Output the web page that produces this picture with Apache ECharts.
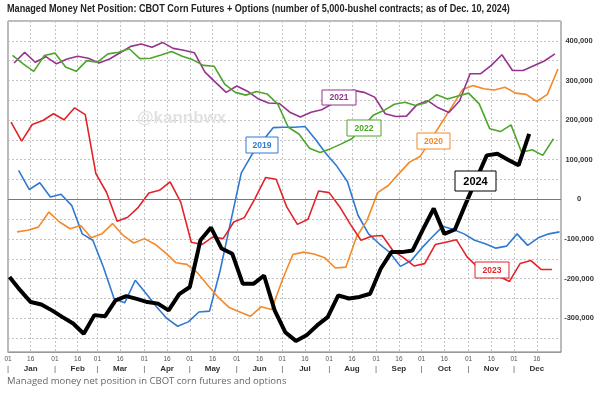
<!DOCTYPE html>
<html>
<head>
<meta charset="utf-8">
<script src="https://cdn.jsdelivr.net/npm/echarts@6/dist/echarts.min.js"></script>
<style>
html, body { margin: 0; padding: 0; background: #fff; }
#chart { width: 609px; height: 397px; }
</style>
</head>
<body>
<div id="chart"></div>
<script>
// calendar (day of year, 0 = Jan 1)
const monthStarts = [0, 31, 59, 90, 120, 151, 181, 212, 243, 273, 304, 334]
const monthNames = ['Jan', 'Feb', 'Mar', 'Apr', 'May', 'Jun', 'Jul', 'Aug', 'Sep', 'Oct', 'Nov', 'Dec']

// y axis, thousands of contracts
const yGridValues = [-350, -300, -250, -200, -150, -100, -50, 0, 50, 100, 150, 200, 250, 300, 350, 400, 450]
const yLabelValues = [-300, -200, -100, 0, 100, 200, 300, 400]

// first weekly report of each year (day of year)
const start2019 = 7
const start2020 = 6
const start2021 = 4
const start2022 = 3
const start2023 = 2
const start2024 = 1

// weekly managed money net position, thousands of contracts
const net2019 = [73, 25, 42, 6, 13, -15, -87, -103, -171, -250, -261, -204, -237, -271, -301, -320, -309, -284, -282, -180, -56, 67, 113, 147, 181, 182, 182, 184, 151, 115, 84, 45, -40, -87, -112, -134, -169, -155, -123, -95, -68, -76, -87, -103, -112, -123, -118, -87, -116, -97, -87, -82]
const net2020 = [-82, -78, -70, -32, -57, -74, -66, -97, -87, -61, -91, -110, -99, -113, -135, -160, -164, -185, -217, -248, -273, -284, -295, -271, -278, -204, -139, -133, -138, -147, -173, -171, -95, -53, 17, 35, 65, 94, 108, 150, 192, 234, 277, 287, 279, 276, 283, 268, 265, 247, 265, 329]
const net2021 = [344, 371, 346, 360, 342, 354, 361, 356, 344, 354, 370, 386, 392, 384, 396, 381, 376, 370, 321, 295, 270, 286, 273, 254, 243, 242, 220, 208, 220, 226, 241, 265, 275, 270, 258, 216, 209, 210, 239, 249, 231, 219, 248, 317, 317, 338, 365, 325, 325, 337, 349, 367]
const net2022 = [363, 342, 323, 363, 369, 334, 323, 350, 346, 367, 371, 380, 355, 356, 364, 373, 361, 352, 338, 336, 291, 270, 263, 272, 266, 241, 182, 165, 129, 118, 128, 140, 153, 182, 212, 224, 240, 245, 237, 244, 264, 253, 261, 268, 241, 178, 171, 188, 119, 125, 111, 153]
const net2023 = [195, 147, 189, 199, 216, 201, 231, 214, 65, 18, -55, -45, -20, 16, 23, 44, -7, -108, -114, -95, -99, -57, -46, 2, 55, 51, -19, -63, -50, 21, 17, -19, -63, -103, -93, -91, -129, -147, -168, -162, -114, -108, -102, -145, -171, -187, -194, -207, -162, -154, -177, -177]
const net2024 = [-196, -229, -259, -265, -280, -297, -313, -339, -292, -295, -255, -244, -251, -259, -263, -280, -239, -221, -103, -71, -124, -137, -213, -213, -192, -280, -335, -357, -343, -318, -297, -242, -250, -246, -238, -175, -133, -133, -129, -75, -23, -87, -76, -12, 50, 111, 115, 100, 86, 165]

const colors = {
  y2019: '#2f79d2',
  y2020: '#f28a2a',
  y2021: '#95348f',
  y2022: '#4ca62b',
  y2023: '#e1232a',
  y2024: '#000000'
}

function weekly(start, vals) {
  return vals.map((v, i) => [start + 7 * i, v])
}

const xTickDays = []
monthStarts.forEach(d => {
  xTickDays.push(d, d + 15)
})

// year tag boxes drawn over the lines
function tag(x, y, w, h, text, color, size) {
  return {
    type: 'group',
    x: x,
    y: y,
    children: [
      {
        type: 'rect',
        z: 100,
        shape: { x: 0, y: 0, width: w, height: h },
        style: { fill: '#fff', stroke: color, lineWidth: 1 }
      },
      {
        type: 'text',
        z: 101,
        style: {
          text: text, x: w / 2, y: h / 2 + 0.5, align: 'center', verticalAlign: 'middle',
          fill: color, font: 'bold ' + size + 'px "Liberation Sans", Arial, sans-serif'
        }
      }
    ]
  }
}

function lineSeries(name, start, vals, color, width) {
  return {
    name: name,
    type: 'line',
    data: weekly(start, vals),
    showSymbol: false,
    symbol: 'none',
    lineStyle: { color: color, width: width },
    itemStyle: { color: color },
    silent: true
  }
}

const chart = echarts.init(document.getElementById('chart'))

const series = [
  lineSeries('2019', start2019, net2019, colors.y2019, 1.6),
  lineSeries('2020', start2020, net2020, colors.y2020, 1.6),
  lineSeries('2021', start2021, net2021, colors.y2021, 1.6),
  lineSeries('2022', start2022, net2022, colors.y2022, 1.6),
  lineSeries('2023', start2023, net2023, colors.y2023, 1.6),
  lineSeries('2024', start2024, net2024, colors.y2024, 4)
]
series[0].markLine = {
  silent: true,
  symbol: 'none',
  label: { show: false },
  lineStyle: { color: '#777', width: 1, type: 'solid' },
  data: [{ yAxis: 0 }]
}

const option = {
  backgroundColor: '#fff',
  animation: false,
  grid: {
    left: 8,
    right: 48,
    top: 21,
    bottom: 45,
    show: true,
    borderColor: '#777',
    borderWidth: 1
  },
  xAxis: {
    type: 'value',
    min: 0,
    max: 365,
    axisLine: { onZero: false, lineStyle: { color: '#999' } },
    axisTick: { show: false, customValues: xTickDays },
    splitLine: { show: true, lineStyle: { color: '#c4c4c4', type: [2, 2], width: 1 } },
    axisLabel: {
      customValues: xTickDays,
      margin: 3,
      formatter: function (v) {
        const m = monthStarts.indexOf(v)
        if (m >= 0) return '{d|01}\n{p||}'
        return '{d|16}\n{m|' + monthNames[monthStarts.indexOf(v - 15)] + '}'
      },
      rich: {
        d: { fontSize: 6.5, color: '#555', fontFamily: 'Liberation Sans', lineHeight: 9 },
        p: { fontSize: 8, color: '#555', fontFamily: 'Liberation Sans', lineHeight: 10 },
        m: { fontSize: 8, color: '#333', fontWeight: 'bold', fontFamily: 'Liberation Sans', lineHeight: 10 }
      }
    }
  },
  yAxis: {
    type: 'value',
    position: 'right',
    min: -385,
    max: 450,
    axisLine: { show: true, lineStyle: { color: '#bbb' } },
    axisTick: { show: false, customValues: yGridValues },
    splitLine: { show: true, lineStyle: { color: '#c4c4c4', type: [2, 2], width: 1 } },
    axisLabel: {
      customValues: yLabelValues,
      margin: 18,
      align: 'center',
      color: '#333',
      fontSize: 7.5,
      fontWeight: 'bold',
      fontFamily: 'Liberation Sans',
      formatter: function (v) {
        return v === 0 ? '0' : (v * 1000).toLocaleString('en-US')
      }
    }
  },
  series: series,
  graphic: [
    {
      type: 'text',
      x: 7,
      y: 4,
      scaleX: 0.91,
      z: 100,
      style: {
        text: 'Managed Money Net Position: CBOT Corn Futures + Options (number of 5,000-bushel contracts; as of Dec. 10, 2024)',
        fill: '#222',
        font: 'bold 10px "Liberation Sans", Arial, sans-serif'
      }
    },
    {
      type: 'text',
      x: 137,
      y: 110,
      z: 1,
      style: {
        text: '@kannbwx',
        fill: '#e2e2e2',
        font: 'bold 17px "Liberation Sans", Arial, sans-serif'
      }
    },
    {
      type: 'text',
      x: 7,
      y: 376,
      style: {
        text: 'Managed money net position in CBOT corn futures and options',
        fill: '#666',
        font: '9.5px "Open Sans", "Noto Sans", sans-serif'
      }
    },
    tag(246, 137, 32, 16, '2019', colors.y2019, 8.5),
    tag(322, 90, 34, 15, '2021', colors.y2021, 8.5),
    tag(347, 120, 34, 16, '2022', colors.y2022, 8.5),
    tag(417, 133, 33, 16, '2020', colors.y2020, 8.5),
    tag(455, 171, 41, 20, '2024', '#000', 11),
    tag(475, 262, 34, 16, '2023', colors.y2023, 8.5)
  ]
}

chart.setOption(option)
</script>
</body>
</html>
